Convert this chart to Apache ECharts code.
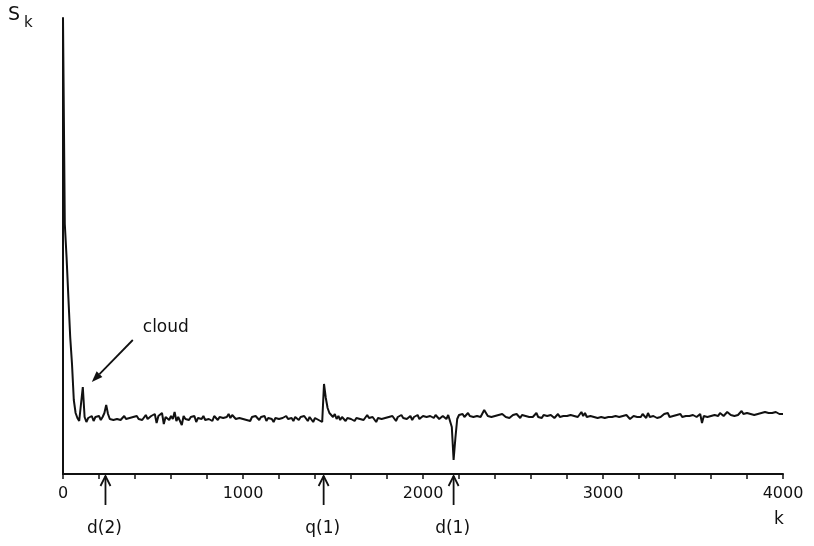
<!DOCTYPE html>
<html>
<head>
<meta charset="utf-8">
<title>S_k</title>
<script src="https://cdn.jsdelivr.net/npm/echarts@6/dist/echarts.min.js"></script>
<style>
  html, body { margin: 0; padding: 0; background: #fff; }
  #chart { width: 814px; height: 546px; }
</style>
</head>
<body>
<div id="chart"></div>
<script>
const kStep = 10;

// k = 0 .. 290 : steep fall, "cloud" spike, small bump
const skHead = [
  456, 250, 216, 176, 137, 110, 74, 61, 56, 53,
  55, 87, 57, 52, 56, 54, 58, 53, 57, 55,
  58, 54, 57, 61, 69, 60, 55, 57, 54, 56
];

// k = 300 .. 1390
const skLow = [
  55, 57, 54, 56, 58, 55, 57, 56, 54, 57,
  56, 58, 55, 57, 54, 56, 59, 55, 53, 58,
  57, 60, 51, 58, 56, 61, 50, 57, 59, 54,
  58, 55, 62, 53, 57, 56, 49, 58, 55, 57,
  54, 57, 55, 58, 52, 56, 57, 55, 58, 54,
  56, 55, 57, 53, 58, 56, 54, 57, 55, 56,
  58, 57, 60, 56, 59, 58, 55, 57, 56, 54,
  55, 57, 54, 56, 53, 57, 55, 58, 56, 54,
  57, 55, 58, 53, 56, 57, 55, 52, 56, 58,
  55, 57, 56, 54, 58, 55, 57, 56, 53, 57,
  56, 54, 57, 55, 58, 56, 53, 57, 55, 52
];

// k = 1400 .. 1590 : q(1) peak
const skQ = [
  56, 57, 54, 56, 52, 90, 76, 66, 61, 59,
  57, 60, 55, 58, 54, 57, 59, 53, 56, 58
];

// k = 1600 .. 2590 : d(1) dip
const skMid = [
  55, 57, 53, 56, 58, 55, 57, 54, 56, 59,
  56, 54, 57, 55, 52, 56, 58, 55, 57, 56,
  54, 57, 55, 58, 56, 53, 57, 55, 59, 56,
  57, 55, 56, 58, 54, 57, 56, 59, 55, 57,
  58, 56, 57, 55, 58, 57, 56, 59, 57, 55,
  57, 58, 56, 55, 59, 57, 47, 14, 36, 55,
  59, 58, 60, 57, 59, 61, 58, 60, 57, 59,
  58, 60, 57, 59, 64, 61, 58, 60, 57, 59,
  58, 56, 59, 57, 60, 58, 57, 59, 56, 58,
  59, 57, 60, 58, 56, 59, 57, 58, 60, 57
];

// k = 2600 .. 4000
const skHigh = [
  58, 57, 59, 61, 57, 58, 56, 59, 57, 58,
  57, 59, 58, 56, 58, 60, 57, 59, 58, 56,
  58, 57, 59, 61, 58, 60, 57, 59, 62, 58,
  61, 57, 59, 58, 60, 57, 59, 56, 58, 57,
  57, 56, 58, 57, 55, 57, 59, 58, 60, 57,
  56, 58, 57, 59, 57, 55, 57, 58, 56, 57,
  58, 57, 60, 59, 56, 61, 57, 55, 58, 57,
  56, 58, 57, 59, 60, 58, 61, 57, 59, 58,
  57, 59, 58, 60, 57, 59, 58, 56, 58, 57,
  59, 58, 57, 56, 60, 51, 58, 56, 57, 59,
  58, 60, 59, 57, 58, 61, 59, 58, 60, 62,
  60, 59, 61, 58, 60, 59, 61, 63, 60, 59,
  61, 59, 60, 62, 59, 61, 60, 58, 61, 60,
  62, 60, 61, 59, 61, 60, 62, 61, 60, 61,
  60
];

const markers = [
  { k: 236, label: "d(2)" },
  { k: 1448, label: "q(1)" },
  { k: 2170, label: "d(1)" }
];
const cloudPeak = [110, 87];

const sk = [].concat(skHead, skLow, skQ, skMid, skHigh);
const seriesData = sk.map((v, i) => [i * kStep, v]);

const ink = "#111";
const fontFamily = "'DejaVu Sans', sans-serif";
const chart = echarts.init(document.getElementById("chart"));

chart.setOption({
  animation: false,
  grid: { left: 63, right: 31, top: 18, bottom: 72 },
  xAxis: {
    type: "value",
    min: 0,
    max: 4000,
    interval: 1000,
    axisLine: { lineStyle: { color: ink, width: 2 } },
    axisTick: { length: 5, lineStyle: { color: ink, width: 1.5 } },
    minorTick: { show: true, splitNumber: 5, length: 5, lineStyle: { color: ink, width: 1.5 } },
    splitLine: { show: false },
    axisLabel: {
      color: ink,
      fontSize: 16,
      fontFamily: fontFamily,
      margin: 12,
      formatter: v => String(v)
    }
  },
  yAxis: {
    type: "value",
    min: 0,
    max: 456,
    axisLine: { show: true, lineStyle: { color: ink, width: 2 } },
    axisTick: { show: false },
    axisLabel: { show: false },
    splitLine: { show: false }
  },
  series: [
    {
      type: "line",
      data: seriesData,
      symbol: "none",
      lineStyle: { color: ink, width: 2 }
    }
  ]
});

// annotations: arrows under the axis, "cloud" pointer, axis titles
const graphics = [];
const textStyle = (text, size, align) => ({
  text: text,
  fill: ink,
  font: size + "px " + fontFamily,
  align: align || "center",
  verticalAlign: "middle"
});

markers.forEach(m => {
  const [x, y] = chart.convertToPixel({ gridIndex: 0 }, [m.k, 0]);
  graphics.push({
    type: "polyline",
    shape: { points: [[x, y + 2], [x, y + 31]] },
    style: { stroke: ink, lineWidth: 1.8, fill: null }
  });
  graphics.push({
    type: "polyline",
    shape: { points: [[x - 5, y + 12], [x, y + 2], [x + 5, y + 12]] },
    style: { stroke: ink, lineWidth: 1.8, fill: null }
  });
  graphics.push({ type: "text", x: x - 1, y: y + 55, style: textStyle(m.label, 17) });
});

const [px, py] = chart.convertToPixel({ gridIndex: 0 }, cloudPeak);
const tip = [px + 9, py - 5];
const tail = [tip[0] + 41, tip[1] - 42];
const len = Math.hypot(tail[0] - tip[0], tail[1] - tip[1]);
const ux = (tail[0] - tip[0]) / len;
const uy = (tail[1] - tip[1]) / len;
const bx = tip[0] + 11 * ux;
const by = tip[1] + 11 * uy;
graphics.push({
  type: "line",
  shape: { x1: bx, y1: by, x2: tail[0], y2: tail[1] },
  style: { stroke: ink, lineWidth: 1.8 }
});
graphics.push({
  type: "polygon",
  shape: { points: [tip, [bx - 4 * uy, by + 4 * ux], [bx + 4 * uy, by - 4 * ux]] },
  style: { fill: ink }
});
graphics.push({ type: "text", x: tip[0] + 74, y: tip[1] - 54, style: textStyle("cloud", 17) });

graphics.push({ type: "text", x: 8, y: 15, style: textStyle("S", 19, "left") });
graphics.push({ type: "text", x: 24, y: 23, style: textStyle("k", 15, "left") });
graphics.push({ type: "text", x: 779, y: 520, style: textStyle("k", 17) });

chart.setOption({ graphic: graphics });
</script>
</body>
</html>
